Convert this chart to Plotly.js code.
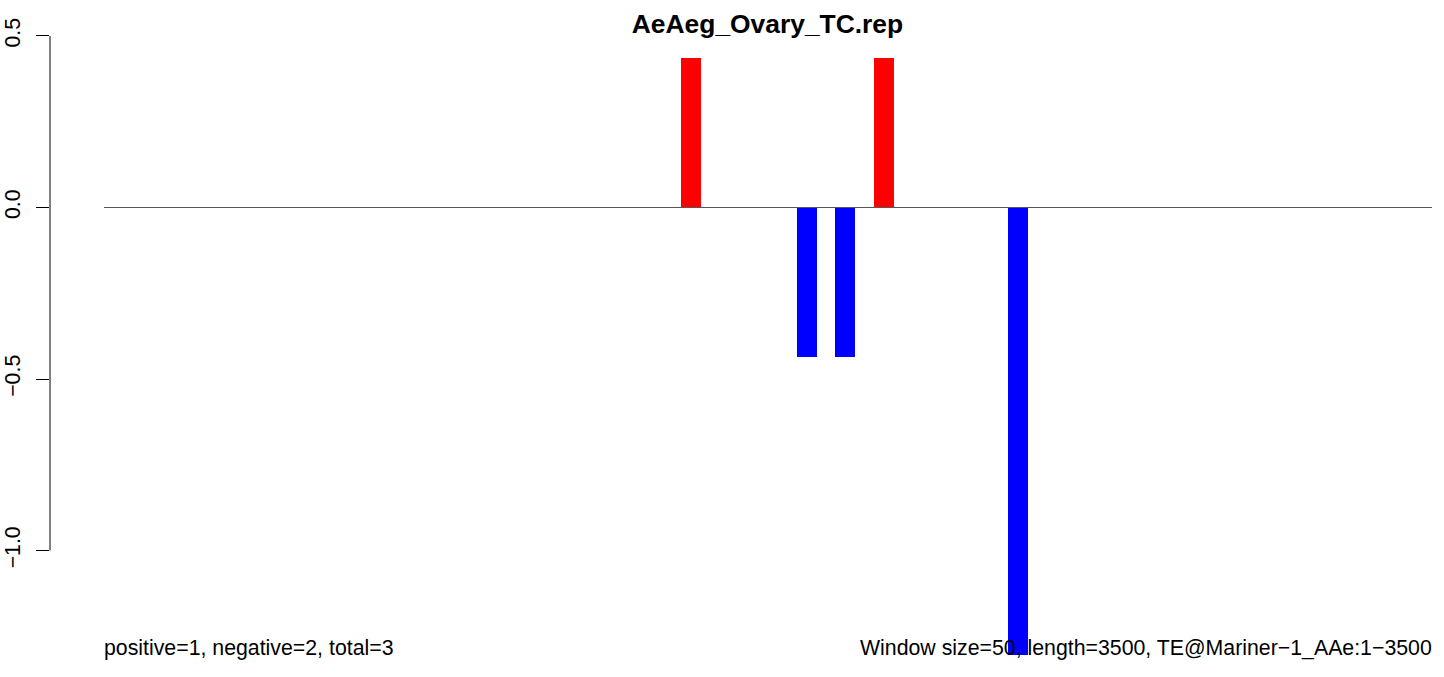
<!DOCTYPE html>
<html>
<head>
<meta charset="utf-8">
<script src="https://cdn.plot.ly/plotly-3.0.1.min.js"></script>
<style>html,body{margin:0;padding:0;background:#fff;}#chart{width:1444px;height:677px;}</style>
</head>
<body>
<div id="chart"></div>
<script>
// ---- data ----
const chartTitle = 'AeAeg_Ovary_TC.rep';
const seqLength = 3500;
const windowSize = 50;
const barPositions = [1547, 1853, 1953, 2056, 2409];
const barValues = [0.435, -0.435, -0.435, 0.435, -1.305];
const tickValues = [-1.0, -0.5, 0.0, 0.5];
const tickLabels = ['\u22121.0', '\u22120.5', '0.0', '0.5'];
const leftNote = 'positive=1, negative=2, total=3';
const rightNote = 'Window size=50, length=3500, TE@Mariner\u22121_AAe:1\u22123500';

// ---- traces ----
const barColors = barValues.map(v => v >= 0 ? '#FF0000' : '#0000FF');
const bars = {
  type: 'bar',
  x: barPositions,
  y: barValues,
  width: barPositions.map(() => windowSize * 1.054),
  marker: {color: barColors, line: {width: 0}},
  hoverinfo: 'x+y',
  showlegend: false
};
const zeroLine = {
  type: 'scatter',
  mode: 'lines',
  x: [0, seqLength],
  y: [0, 0],
  line: {color: '#555555', width: 1},
  hoverinfo: 'skip',
  showlegend: false
};

const font = "'Liberation Sans', Arial, Helvetica, sans-serif";
const baseSize = 21.3;
const layout = {
  width: 1444,
  height: 677,
  margin: {l: 50, r: 12, t: 20, b: 17, pad: 0},
  paper_bgcolor: '#ffffff',
  plot_bgcolor: '#ffffff',
  font: {family: font, size: baseSize, color: '#000000'},
  bargap: 0,
  title: {
    text: '<b>' + chartTitle + '</b>',
    font: {family: font, size: 26.4, color: '#000000'},
    xref: 'container', x: 767.5 / 1444, xanchor: 'center',
    yref: 'container', y: 1 - 24 / 677, yanchor: 'middle'
  },
  xaxis: {
    range: [-142.3, seqLength],
    visible: false,
    fixedrange: true
  },
  yaxis: {
    range: [-1.3192, 0.5466],
    showgrid: false,
    zeroline: false,
    showline: false,
    ticks: 'outside',
    ticklen: 13,
    tickwidth: 1,
    tickcolor: '#000000',
    tickvals: tickValues,
    ticktext: tickLabels,
    tickangle: -90,
    ticklabelstandoff: 7,
    tickfont: {family: font, size: baseSize, color: '#000000'},
    fixedrange: true
  },
  shapes: [{
    type: 'line', xref: 'paper', yref: 'y',
    x0: 0, x1: 0, y0: tickValues[0], y1: tickValues[tickValues.length - 1],
    line: {color: '#000000', width: 1}
  }],
  annotations: [
    {text: leftNote, xref: 'x', yref: 'y', x: 0, xshift: -2, y: -1.283,
     xanchor: 'left', yanchor: 'middle', showarrow: false,
     font: {family: font, size: baseSize, color: '#000000'}},
    {text: rightNote, xref: 'x', yref: 'y', x: seqLength, xshift: 2, y: -1.283,
     xanchor: 'right', yanchor: 'middle', showarrow: false,
     font: {family: font, size: baseSize, color: '#000000'}}
  ]
};

Plotly.newPlot('chart', [bars, zeroLine], layout, {displayModeBar: false, staticPlot: true});
</script>
</body>
</html>
